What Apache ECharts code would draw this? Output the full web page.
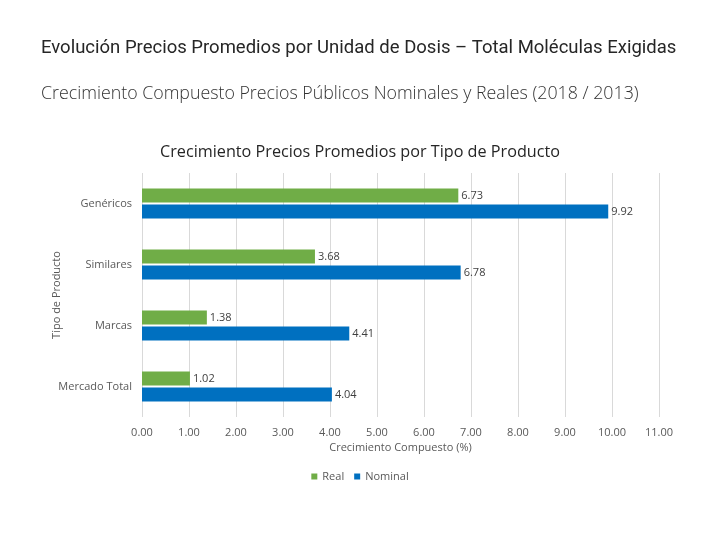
<!DOCTYPE html>
<html><head><meta charset="utf-8">
<script src="https://cdn.jsdelivr.net/npm/echarts@6/dist/echarts.min.js"></script>
<style>html,body{margin:0;padding:0;background:#fff}#c{width:720px;height:540px}</style>
</head><body><div id="c"></div>
<script>
var categories = ['Genéricos', 'Similares', 'Marcas', 'Mercado Total'];
var realValues = [6.73, 3.68, 1.38, 1.02];
var nominalValues = [9.92, 6.78, 4.41, 4.04];
var xTicks = [0, 1, 2, 3, 4, 5, 6, 7, 8, 9, 10, 11];

var chart = echarts.init(document.getElementById('c'), null, {renderer: 'canvas'});
var lab = {show: true, position: 'right', distance: 3, color: '#404040', fontSize: 11, fontFamily: 'Open Sans', formatter: function(p){return p.value.toFixed(2);}};
chart.setOption({
  animation: false,
  backgroundColor: '#fff',
  title: [
    {text: 'Evolución Precios Promedios por Unidad de Dosis – Total Moléculas Exigidas', left: 36, top: 34,
     textStyle: {fontFamily: 'Roboto', fontWeight: 'normal', fontSize: 18.5, color: '#262626'}},
    {text: 'Crecimiento Compuesto Precios Públicos Nominales y Reales (2018 / 2013)', left: 36, top: 80,
     textStyle: {fontFamily: 'Open Sans', fontWeight: 300, fontSize: 17.8, color: '#333'}},
    {text: 'Crecimiento Precios Promedios por Tipo de Producto', left: 'center', top: 139,
     textStyle: {fontFamily: 'Open Sans', fontWeight: 'normal', fontSize: 16.2, color: '#262626'}}
  ],
  legend: {bottom: 53, left: 'center', itemWidth: 6, itemHeight: 6, itemGap: 10, icon: 'rect',
    textStyle: {fontFamily: 'Open Sans', fontSize: 11, color: '#595959'},
    data: ['Real', 'Nominal']},
  grid: {left: 142, right: 61, top: 173, bottom: 123, containLabel: false},
  xAxis: {type: 'value', min: 0, max: 11, interval: 1,
    name: 'Crecimiento Compuesto (%)', nameLocation: 'middle', nameGap: 25,
    nameTextStyle: {fontFamily: 'Open Sans', fontSize: 11, color: '#595959'},
    axisLine: {show: false}, axisTick: {show: false},
    axisLabel: {margin: 10, fontFamily: 'Open Sans', fontSize: 11, color: '#595959',
      formatter: function(v){return v.toFixed(2);}},
    splitLine: {show: true, lineStyle: {color: '#d9d9d9', width: 1}}},
  yAxis: {type: 'category', data: categories, inverse: true,
    name: 'Tipo de Producto', nameLocation: 'middle', nameGap: 80, nameRotate: 90, nameMoveOverlap: false,
    nameTextStyle: {fontFamily: 'Open Sans', fontSize: 11, color: '#595959'},
    axisLine: {show: false}, axisTick: {show: false},
    axisLabel: {margin: 10, fontFamily: 'Open Sans', fontSize: 11, color: '#595959'}},
  series: [
    {name: 'Real', type: 'bar', data: realValues, barWidth: 14, barGap: '14%',
     itemStyle: {color: '#70AD47'}, label: lab},
    {name: 'Nominal', type: 'bar', data: nominalValues, barWidth: 14,
     itemStyle: {color: '#0070C0'}, label: lab}
  ]
});
</script></body></html>
